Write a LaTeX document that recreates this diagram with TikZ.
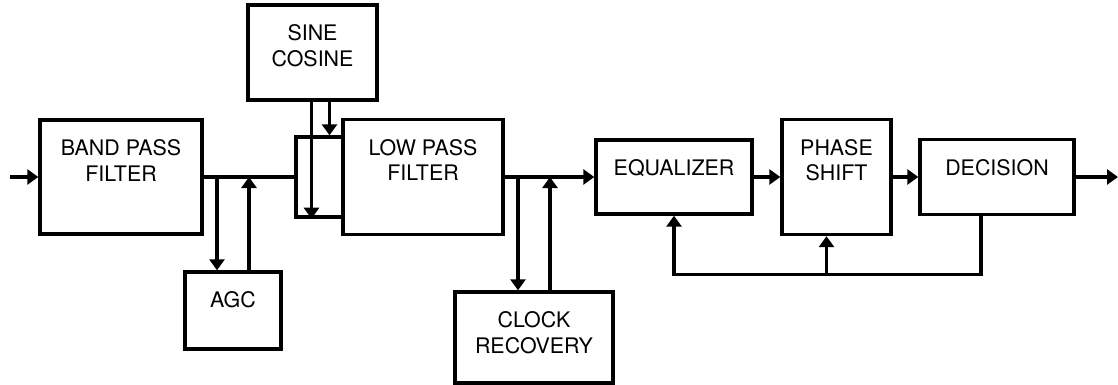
\documentclass[tikz,border=0pt]{standalone}
\usepackage{fontspec}
\setmainfont{TeX Gyre Heros}
\usetikzlibrary{arrows.meta,positioning}

\begin{document}
\begin{tikzpicture}[->,>={Triangle[width=7.5pt,length=5.5pt]},line width=1.7pt,on grid,x=0.5pt,y=-0.5pt,
   blk/.style={draw,rectangle,inner sep=0pt},
   lbl/.style={anchor=north,inner sep=0pt,yshift=-10pt,align=center,font=\fontsize{10.7}{12.6}\selectfont}]
   \useasboundingbox (0,0) rectangle (1118,385);
   % main chain
   \node[blk,minimum width=81pt,minimum height=57pt,label={[lbl]north:{BAND PASS\\FILTER}}] (bpf) at (121,177) {};
   \node[blk,minimum width=23.5pt,minimum height=40pt] (mix) [right=99.25pt of bpf] {};
   \node[blk,minimum width=80pt,minimum height=57.5pt,label={[lbl]north:{LOW PASS\\FILTER}}] (lpf) [right=51.75pt of mix] {};
   \node[blk,minimum width=78pt,minimum height=37pt,label={[lbl]north:EQUALIZER}] (equ) [right=125.5pt of lpf] {};
   \node[blk,minimum width=54.5pt,minimum height=57.5pt,label={[lbl]north:{PHASE\\SHIFT}}] (phs) [right=81.25pt of equ] {};
   \node[blk,minimum width=77pt,minimum height=37.5pt,label={[lbl]north:DECISION}] (dec) [right=80.25pt of phs] {};
   % side blocks
   \node[blk,minimum width=48pt,minimum height=38.5pt,label={[lbl]north:AGC}] (agc) [below right=66.75pt and 56pt of bpf] {};
   \node[blk,minimum width=64.5pt,minimum height=47.5pt,label={[lbl]north:{SINE\\COSINE}}] (sin) [above left=62.25pt and 3.5pt of mix] {};
   \node[blk,minimum width=79pt,minimum height=45.5pt,label={[lbl]north:{CLOCK\\RECOVERY}}] (clk) [below right=80.25pt and 55.5pt of lpf] {};

   \coordinate (in) at (10,177);
   \coordinate (out) at (1118,177);
   \coordinate (agcd) at ([xshift=-8pt]agc.north);
   \coordinate (agcu) at ([xshift=8pt]agc.north);
   \coordinate (mixs) at ([xshift=-4pt]mix.south);
   \coordinate (mixn) at ([xshift=5pt]mix.north);
   \coordinate (clkd) at ([xshift=-8pt]clk.north);
   \coordinate (clku) at ([xshift=8pt]clk.north);
   \coordinate (fb) at ([xshift=-8pt]dec.south);
   \coordinate (fbd) at ([yshift=-29pt]fb);
   \coordinate (phsf) at ([xshift=-5pt]phs.south);

   \draw (in) -- (bpf.west);
   \draw[-] (bpf.east) -- (mix.west);
   \draw (agcd |- bpf.east) -- (agcd);
   \draw (agcu) -- (agcu |- bpf.east);
   \draw (mixs |- sin.south) -- (mixs);
   \draw (mixn |- sin.south) -- (mixn);
   \draw (lpf.east) -- (equ.west);
   \draw (clkd |- lpf.east) -- (clkd);
   \draw (clku) -- (clku |- lpf.east);
   \draw (equ.east) -- (phs.west);
   \draw (phs.east) -- (dec.west);
   \draw (dec.east) -- (out);
   % feedback from decision
   \draw (fb) -- (fbd) -| (equ.south);
   \draw (phsf |- fbd) -- (phsf);
\end{tikzpicture}
\end{document}
